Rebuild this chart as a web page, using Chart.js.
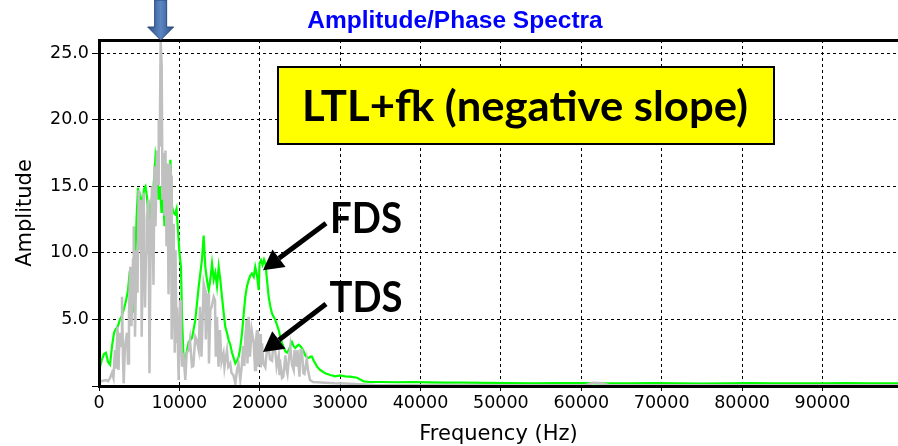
<!DOCTYPE html>
<html>
<head>
<meta charset="utf-8">
<script src="https://cdn.jsdelivr.net/npm/chart.js@4/dist/chart.umd.min.js"></script>
<style>
  html, body { margin: 0; padding: 0; background: #fff; }
  #wrap { width: 898px; height: 446px; }
</style>
</head>
<body>
<div id="wrap"><canvas id="c" width="898" height="446"></canvas></div>
<script>
// Frequency-domain result (FDS): frequency in Hz and amplitude
const freqFDS = [
  0,150,370,620,870,1120,1370,1620,1870,2110,
  2360,2610,2860,3110,3360,3610,3790,3980,4170,4290,
  4480,4670,4850,5040,5220,5410,5600,5780,5970,6160,
  6340,6530,6720,6900,7030,7220,7400,7590,7780,7960,
  8150,8330,8520,8710,8890,9080,9270,9450,9640,9830,
  10010,10200,10330,10490,10630,10820,11160,11570,11980,12400,
  12810,13020,13220,13440,13650,13850,14060,14270,14470,14680,
  14890,15090,15300,15510,15710,15920,16130,16330,16550,16760,
  16960,17170,17380,17580,17790,18000,18200,18410,18620,18820,
  19030,19250,19440,19660,19870,19970,20150,20340,20530,20710,
  20900,21110,21310,21520,21730,21940,22140,22360,22550,22770,
  22980,23180,23390,23600,23800,24010,24220,24420,24630,24840,
  25040,25250,25460,25660,25880,26090,26290,26500,26710,26910,
  27120,27530,28150,28770,29400,30020,30600,31220,32100,32470,
  32930,33710,35000,37000,39000,41000,43000,45000,48000,51000,
  54000,57000,60000,63000,66000,69000,72000,75000,78000,81000,
  84000,87000,90000,93000,96000,99400
];
const ampFDS = [
  1.0,1.5,2.0,2.4,2.5,1.8,1.6,3.0,4.0,4.3,
  4.5,5.0,5.3,5.8,6.4,7.2,8.4,8.2,7.0,5.5,
  9.0,12.5,14.9,13.0,14.1,13.5,14.8,15.0,14.2,12.5,
  13.4,12.0,14.5,16.0,17.3,16.5,14.0,15.0,13.0,14.5,
  12.0,15.0,16.7,15.5,17.0,13.5,13.0,12.9,13.3,11.7,
  10.0,8.9,5.2,2.5,1.7,2.3,3.3,3.6,4.95,7.45,
  9.5,11.3,9.0,7.9,7.2,8.0,9.2,8.0,8.5,7.5,
  8.95,8.0,6.7,5.5,4.45,4.0,3.45,3.1,2.5,2.1,
  1.7,1.9,2.2,2.9,3.95,5.4,6.7,7.5,7.95,8.3,
  8.45,8.2,8.95,8.3,7.2,9.2,9.45,9.1,9.5,9.2,
  7.95,6.7,6.0,5.45,5.2,4.95,4.6,4.2,3.7,3.2,
  2.9,2.6,2.5,2.7,3.0,3.3,3.0,2.85,3.0,3.1,
  3.0,2.85,2.6,2.3,2.15,2.1,2.2,2.2,1.9,1.7,
  1.45,1.2,0.95,0.83,0.72,0.8,0.72,0.7,0.62,0.5,
  0.35,0.3,0.3,0.28,0.3,0.27,0.25,0.25,0.23,0.22,
  0.2,0.22,0.22,0.2,0.2,0.22,0.2,0.18,0.2,0.22,
  0.2,0.2,0.2,0.22,0.2,0.2
];

// Time-domain result (TDS): frequency in Hz and amplitude
const freqTDS = [
  0,124,500,870,1120,1370,1620,1800,1990,2110,
  2300,2430,2550,2740,2860,2990,3070,3230,3480,3610,
  3730,3890,4040,4230,4320,4480,4670,4790,4940,5100,
  5220,5310,5470,5560,5720,5850,5970,6160,6280,6410,
  6590,6780,6900,7030,7220,7340,7430,7550,7670,7800,
  7900,8020,8150,8270,8400,8520,8650,8830,8960,9040,
  9180,9290,9420,9520,9640,9700,9910,10080,10200,10330,
  10490,10740,10910,11160,11320,11570,11730,11980,12150,12400,
  12560,12750,13020,13190,13290,13440,13600,13680,13850,14020,
  14270,14430,14530,14680,14870,15050,15240,15490,15610,15920,
  16090,16330,16480,16730,16960,17170,17350,17580,17750,17950,
  18080,18200,18370,18470,18620,18780,18990,19250,19410,19530,
  19660,19780,20030,20130,20280,20440,20690,20860,21110,21270,
  21520,21680,21930,22100,22360,22450,22510,22770,22930,23180,
  23350,23450,23620,23800,24010,24220,24320,24590,24690,24940,
  25070,25250,25420,25560,25840,26000,26250,26620,27240,28110,
  29360,30600,31850,33090,34330,36200,40000,45000,50000,55000,
  60500,61500,62500,63500,70000,80000,90000,99400
];
const ampTDS = [
  0.3,0.35,0.4,0.45,0.35,0.6,1.0,0.6,2.7,1.3,
  4.45,1.2,4.0,3.0,6.7,2.0,0.2,3.0,4.0,1.7,
  5.5,8.95,4.5,9.5,12.0,3.7,10.2,7.0,14.7,10.2,
  14.0,3.7,11.0,14.5,5.9,10.0,12.7,14.0,0.95,10.0,
  15.0,7.6,16.5,12.0,17.7,15.2,20.0,18.0,26.0,24.0,
  14.0,17.5,12.8,17.7,10.5,16.7,6.9,16.7,15.8,3.5,
  8.0,12.2,2.5,10.2,3.3,5.9,0.45,6.45,4.0,1.45,
  2.5,0.45,2.5,2.7,3.45,1.45,1.5,3.7,3.45,2.7,
  5.95,2.2,7.7,7.2,3.5,6.2,6.95,1.7,5.7,5.95,
  6.7,6.45,2.2,5.2,1.45,4.2,1.8,2.45,1.4,2.7,
  1.45,1.7,1.0,0.8,0.2,1.2,1.7,0.45,1.45,3.0,
  1.5,3.7,4.95,1.7,5.2,2.2,4.2,3.2,1.2,3.45,
  4.2,1.45,3.9,1.4,3.2,1.7,1.4,2.5,2.9,2.0,
  1.9,3.0,2.6,1.45,2.3,0.9,2.0,0.6,0.7,2.3,
  1.2,0.9,2.0,2.95,1.6,1.2,2.7,1.45,2.7,0.7,
  2.7,2.7,0.95,0.9,2.0,1.2,0.45,0.3,0.28,0.25,
  0.2,0.18,0.15,0.12,0.08,0.06,0.06,0.08,0.06,0.06,
  0.06,0.25,0.2,0.06,0.06,0.06,0.06,0.06
];

const xTickValues = [0,10000,20000,30000,40000,50000,60000,70000,80000,90000];
const yTickValues = [0,5,10,15,20,25];

const toPoints = (xs, ys) => xs.map((x, i) => ({ x: x, y: ys[i] }));

// Title, frame, marker arrow and callouts drawn over the plot
const decorations = {
  id: 'decorations',
  afterDraw(chart) {
    const { ctx, chartArea: a, scales: { x, y } } = chart;
    ctx.save();

    // title
    ctx.font = 'bold 24.5px "Liberation Sans", Arial, sans-serif';
    ctx.fillStyle = '#0000ff';
    ctx.textAlign = 'center';
    ctx.textBaseline = 'alphabetic';
    ctx.fillText('Amplitude/Phase Spectra', 455, 28);

    // top frame line
    ctx.strokeStyle = '#000';
    ctx.lineWidth = 3;
    ctx.beginPath();
    ctx.moveTo(a.left - 1, a.top + 0.5);
    ctx.lineTo(a.right, a.top + 0.5);
    ctx.stroke();

    // blue marker arrow pointing at the main peak
    const mx = x.getPixelForValue(7670);
    const headTop = a.top - 13;
    const g = ctx.createLinearGradient(mx - 13, 0, mx + 13, 0);
    g.addColorStop(0, '#2c4f86');
    g.addColorStop(0.5, '#5b86c2');
    g.addColorStop(1, '#2c4f86');
    ctx.fillStyle = g;
    ctx.strokeStyle = '#2a4a7c';
    ctx.lineWidth = 1;
    ctx.beginPath();
    ctx.moveTo(mx - 6, 0);
    ctx.lineTo(mx + 6, 0);
    ctx.lineTo(mx + 6, headTop);
    ctx.lineTo(mx + 13, headTop);
    ctx.lineTo(mx, a.top);
    ctx.lineTo(mx - 13, headTop);
    ctx.lineTo(mx - 6, headTop);
    ctx.closePath();
    ctx.fill();
    ctx.stroke();

    // condensed bold label helper
    const label = (text, cx, base, size, width) => {
      ctx.font = 'bold ' + size + 'px Lato, "Open Sans", sans-serif';
      const w = ctx.measureText(text).width;
      ctx.save();
      ctx.translate(cx, base);
      ctx.scale(width / w, 1);
      ctx.fillStyle = '#000';
      ctx.textAlign = 'center';
      ctx.fillText(text, 0, 0);
      ctx.restore();
    };

    // yellow caption box
    ctx.fillStyle = '#ffff00';
    ctx.fillRect(278, 67, 496, 77);
    ctx.strokeStyle = '#000';
    ctx.lineWidth = 2;
    ctx.strokeRect(278, 67, 496, 77);
    label('LTL+fk (negative slope)', 525, 121, 42, 446);

    // callout arrows
    const arrow = (fx, fy, dx, dy) => {
      const tx = x.getPixelForValue(fx), ty = y.getPixelForValue(fy);
      const sx = tx + dx, sy = ty + dy;
      const len = Math.hypot(dx, dy);
      const ux = -dx / len, uy = -dy / len;
      const hl = 20, hw = 11;
      const bx = tx - ux * hl, by = ty - uy * hl;
      ctx.strokeStyle = '#000';
      ctx.lineWidth = 5;
      ctx.beginPath();
      ctx.moveTo(sx, sy);
      ctx.lineTo(bx, by);
      ctx.stroke();
      ctx.fillStyle = '#000';
      ctx.beginPath();
      ctx.moveTo(tx, ty);
      ctx.lineTo(bx - uy * hw, by + ux * hw);
      ctx.lineTo(bx + uy * hw, by - ux * hw);
      ctx.closePath();
      ctx.fill();
    };
    arrow(20400, 8.7, 63, -47);
    arrow(20400, 2.55, 63, -48);
    label('FDS', 366, 233, 42, 72);
    label('TDS', 366, 312, 42, 73);

    ctx.restore();
  }
};

const tickFont = { family: '"DejaVu Sans", Verdana, sans-serif', size: 17.5 };
const titleFont = { family: '"DejaVu Sans", Verdana, sans-serif', size: 21, lineHeight: 1.05 };

new Chart(document.getElementById('c'), {
  type: 'line',
  data: {
    datasets: [
      {
        label: 'TDS',
        data: toPoints(freqTDS, ampTDS),
        borderColor: '#c0c0c0',
        borderWidth: 2.5,
        pointRadius: 0,
        tension: 0,
        order: 0
      },
      {
        label: 'FDS',
        data: toPoints(freqFDS, ampFDS),
        borderColor: '#00ff00',
        borderWidth: 2.2,
        pointRadius: 0,
        tension: 0,
        order: 1
      }
    ]
  },
  options: {
    responsive: false,
    animation: false,
    events: [],
    layout: { padding: { top: 40, right: 0, bottom: 0, left: 0 } },
    plugins: {
      legend: { display: false },
      tooltip: { enabled: false },
      title: { display: false }
    },
    scales: {
      x: {
        type: 'linear',
        min: 0,
        max: 99400,
        afterBuildTicks: s => { s.ticks = xTickValues.map(v => ({ value: v })); },
        afterFit: s => { s.height = 60; },
        ticks: {
          font: tickFont,
          color: '#000',
          maxRotation: 0,
          autoSkip: false,
          padding: 2,
          callback: v => String(v)
        },
        grid: { color: '#000', lineWidth: 1, tickLength: 5 },
        border: { display: true, color: '#000', width: 3, dash: [3, 3], z: 1 },
        title: {
          display: true,
          text: 'Frequency (Hz)',
          font: titleFont,
          color: '#000',
          padding: { top: 0, bottom: 0 }
        }
      },
      y: {
        min: 0,
        max: 26,
        afterBuildTicks: s => { s.ticks = yTickValues.map(v => ({ value: v })); },
        afterFit: s => { s.width = 99; },
        ticks: {
          font: tickFont,
          color: '#000',
          padding: 3,
          callback: v => (v === 0 ? '' : v.toFixed(1))
        },
        grid: { color: '#000', lineWidth: 1, tickLength: 7 },
        border: { display: true, color: '#000', width: 3, dash: [3, 3], z: 1 },
        title: {
          display: true,
          text: 'Amplitude',
          font: titleFont,
          color: '#000',
          padding: { top: 15, bottom: 0 }
        }
      }
    }
  },
  plugins: [decorations]
});
</script>
</body>
</html>
